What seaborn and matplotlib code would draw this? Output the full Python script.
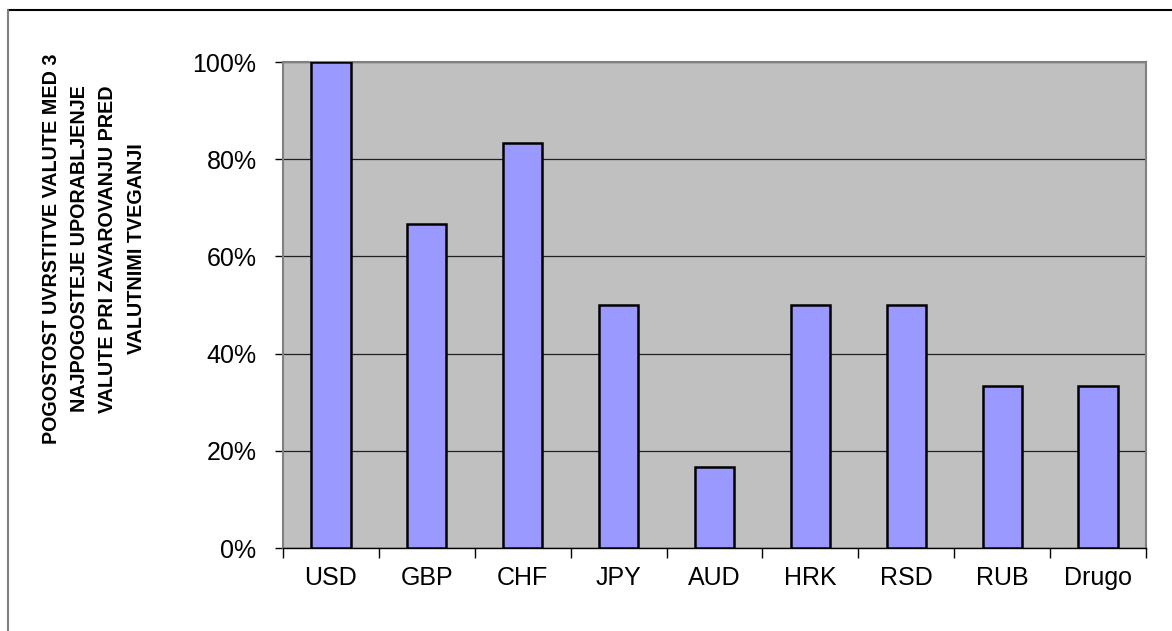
import matplotlib
matplotlib.use("Agg")
import matplotlib.pyplot as plt
from matplotlib.ticker import PercentFormatter, FixedLocator, NullFormatter
from matplotlib.lines import Line2D
import seaborn as sns
import pandas as pd

# Currencies and share of respondents ranking each among the top 3
currencies = ["USD", "GBP", "CHF", "JPY", "AUD", "HRK", "RSD", "RUB", "Drugo"]
shares = [1.0, 0.6667, 0.8333, 0.50, 0.1667, 0.50, 0.50, 0.3333, 0.3333]
y_ticks = [0.0, 0.2, 0.4, 0.6, 0.8, 1.0]
y_label = ("POGOSTOST UVRSTITVE VALUTE MED 3\n"
           "NAJPOGOSTEJE UPORABLJENJE\n"
           "VALUTE PRI ZAVAROVANJU PRED\n"
           "VALUTNIMI TVEGANJI")

df = pd.DataFrame({"valuta": currencies, "delez": shares})

sns.set_style("white")
plt.rcParams["font.family"] = ["Liberation Sans", "DejaVu Sans"]
plt.rcParams["text.color"] = "black"
plt.rcParams["xtick.color"] = "black"
plt.rcParams["ytick.color"] = "black"

fig = plt.figure(figsize=(11.72, 6.31), dpi=100)
ax = fig.add_axes([283 / 1172, 1 - 548 / 631, (1146 - 283) / 1172, (548 - 62) / 631])
ax.set_facecolor("#C0C0C0")

sns.barplot(data=df, x="valuta", y="delez", order=currencies, ax=ax,
            color="#9999FF", saturation=1, width=0.41,
            edgecolor="black", linewidth=1.8, zorder=3)

ax.set_xlim(-0.5, len(currencies) - 0.5)
ax.set_ylim(0, 1.0)

# horizontal gridlines
ax.set_yticks(y_ticks)
ax.yaxis.set_major_formatter(PercentFormatter(1.0, decimals=0))
ax.grid(axis="y", color="#202020", linewidth=0.9, zorder=1)
ax.grid(axis="x", visible=False)
ax.set_axisbelow(True)

# category labels at centres, tick marks at category boundaries
ax.xaxis.set_minor_locator(FixedLocator([i - 0.5 for i in range(len(currencies) + 1)]))
ax.xaxis.set_minor_formatter(NullFormatter())
ax.tick_params(axis="x", which="major", length=0, pad=13, labelsize=18,
               labelcolor="black")
ax.tick_params(axis="x", which="minor", length=7, width=1.0, color="black",
               direction="out", bottom=True)
ax.tick_params(axis="y", which="major", length=6, width=1.0, color="black",
               direction="out", left=True, pad=13, labelsize=18, labelcolor="black")

for side in ["left", "right", "top"]:
    ax.spines[side].set_visible(True)
    ax.spines[side].set_color("#808080")
    ax.spines[side].set_linewidth(1.5)
ax.spines["bottom"].set_color("black")
ax.spines["bottom"].set_linewidth(1.0)

ax.set_xlabel("")
ax.set_ylabel("")

fig.text(94 / 1172, 1 - 249 / 631, y_label, rotation=90, ha="center", va="center",
         multialignment="center", fontsize=14.2, fontweight="bold", color="black",
         family=["Liberation Sans Narrow", "Liberation Sans", "DejaVu Sans"],
         linespacing=1.6)

# outer frame: top rule and left rule
fig.add_artist(Line2D([8 / 1172, 1.0], [1 - 10 / 631, 1 - 10 / 631],
                      transform=fig.transFigure, color="black", linewidth=1.5))
fig.add_artist(Line2D([8 / 1172, 8 / 1172], [0.0, 1 - 10 / 631],
                      transform=fig.transFigure, color="#808080", linewidth=1.5))

fig.savefig("out.png", dpi=100)
